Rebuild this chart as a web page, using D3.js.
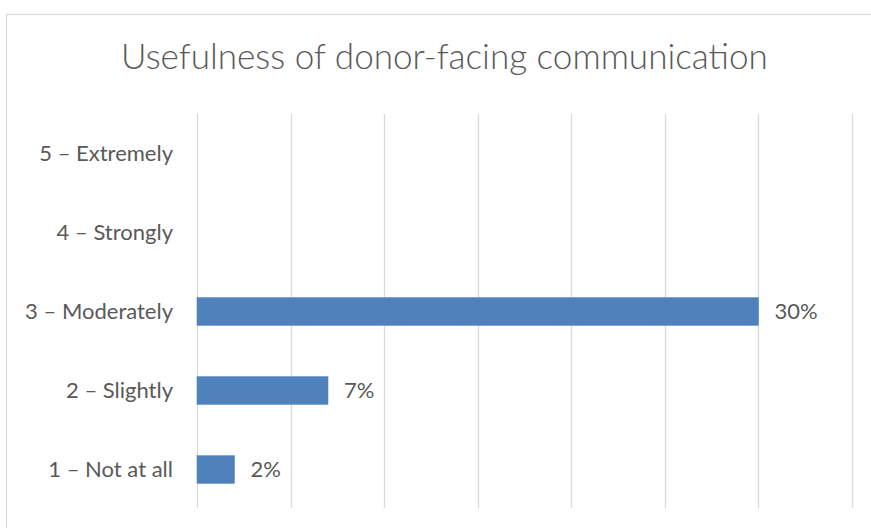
<!DOCTYPE html>
<html>
<head>
<meta charset="utf-8">
<script src="https://cdn.jsdelivr.net/npm/d3@7"></script>
<style>
  html, body { margin: 0; padding: 0; background: #ffffff; }
  svg { display: block; }
  text { font-family: Lato, "Open Sans", sans-serif; fill: #595959; }
</style>
</head>
<body>
<svg id="chart" width="871" height="528"></svg>
<script>
// Survey responses: share of respondents per usefulness rating
const title = "Usefulness of donor-facing communication";
const categories = ["5 – Extremely", "4 – Strongly", "3 – Moderately", "2 – Slightly", "1 – Not at all"];
const values = [null, null, 30, 7, 2];       // percent
const axisMax = 35;                          // percent
const gridTicks = [0, 5, 10, 15, 20, 25, 30, 35];

const svg = d3.select("#chart");
const W = 871, H = 528;

// chart frame
svg.append("rect")
  .attr("x", 6.5).attr("y", 14.5)
  .attr("width", W + 10).attr("height", H + 10)
  .attr("fill", "#ffffff")
  .attr("stroke", "#d9d9d9").attr("stroke-width", 1.2);

const plot = { left: 197, right: 852, top: 114, bottom: 509 };

const x = d3.scaleLinear().domain([0, axisMax]).range([plot.left, plot.right]);
const y = d3.scaleBand().domain(categories)
  .range([plot.top, plot.bottom])
  .paddingInner(0.65).paddingOuter(0.325);

// vertical gridlines
svg.append("g").selectAll("line").data(gridTicks).join("line")
  .attr("x1", d => Math.round(x(d)) + 0.5).attr("x2", d => Math.round(x(d)) + 0.5)
  .attr("y1", plot.top).attr("y2", plot.bottom - 1)
  .attr("stroke", "#d9d9d9").attr("stroke-width", 1.3);

// title, sized to span the chart header
const titleText = svg.append("text")
  .attr("x", 444.5).attr("y", 69)
  .attr("text-anchor", "middle")
  .style("font-size", "34px").style("font-weight", 300)
  .text(title);
const titleWidth = 647;
const tw = titleText.node().getComputedTextLength();
if (tw > 0) titleText.style("font-size", (34 * titleWidth / tw).toFixed(2) + "px");

// category axis labels
svg.append("g").selectAll("text").data(categories).join("text")
  .attr("x", 173)
  .attr("y", d => y(d) + y.bandwidth() / 2)
  .attr("dy", "0.36em")
  .attr("text-anchor", "end")
  .style("font-size", "22px")
  .text(d => d);

const rows = categories.map((c, i) => ({ c, v: values[i] })).filter(d => d.v != null);

// bars
svg.append("g").selectAll("rect").data(rows).join("rect")
  .attr("x", x(0))
  .attr("y", d => y(d.c))
  .attr("width", d => x(d.v) - x(0))
  .attr("height", y.bandwidth())
  .attr("fill", "#4f81bd")
  .attr("stroke", "#5b8ac4").attr("stroke-width", 0.6);

// value labels
svg.append("g").selectAll("text").data(rows).join("text")
  .attr("x", d => x(d.v) + 16)
  .attr("y", d => y(d.c) + y.bandwidth() / 2)
  .attr("dy", "0.36em")
  .style("font-size", "22px")
  .text(d => d.v + "%");
</script>
</body>
</html>
